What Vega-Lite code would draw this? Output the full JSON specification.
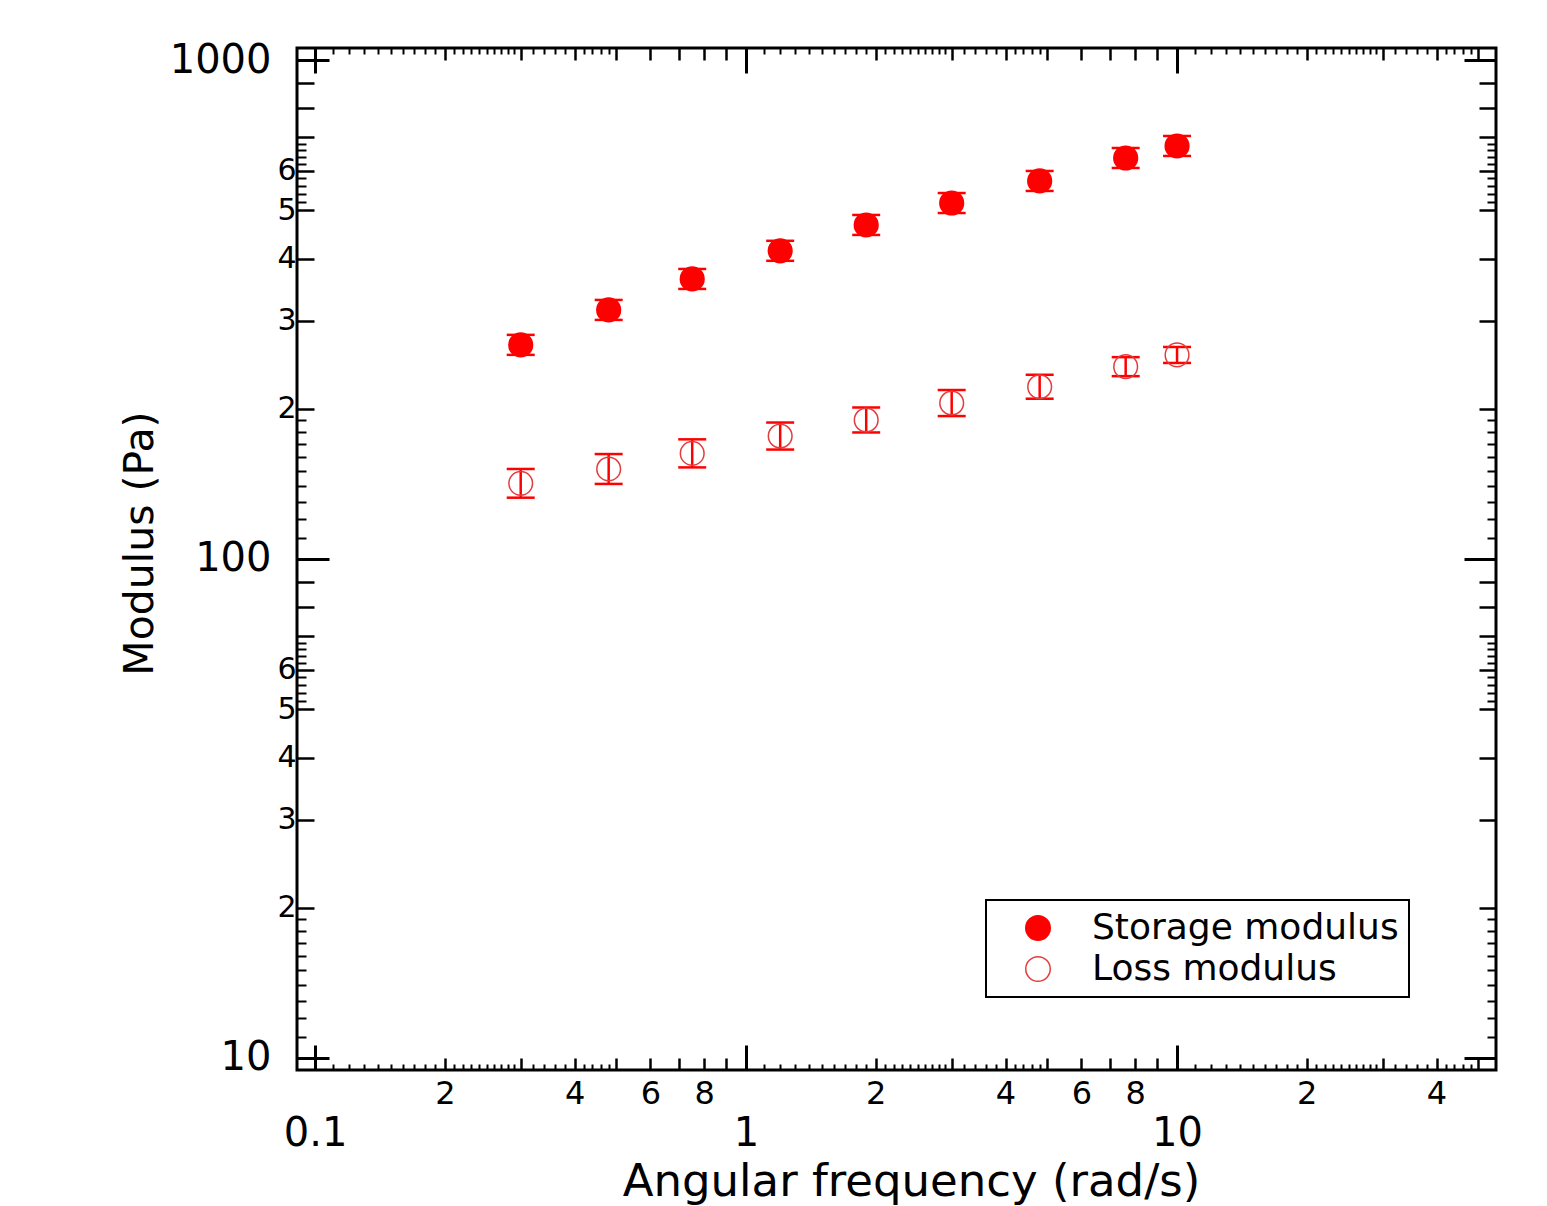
{
  "$schema": "https://vega.github.io/schema/vega-lite/v6.json",
  "width": 1199,
  "height": 1022,
  "autosize": "none",
  "padding": {"left": 297, "top": 48, "right": 51, "bottom": 136},
  "background": "white",
  "config": {
    "view": {"stroke": "black", "strokeWidth": 3},
    "axis": {"grid": false, "domain": false, "labelFont": "DejaVu Sans", "titleFont": "DejaVu Sans", "labelColor": "black", "titleColor": "black", "tickColor": "black", "titleFontWeight": "normal", "labelOverlap": false, "labelFlush": false, "labelBound": false, "tickWidth": 2.5},
    "legend": {"strokeWidth": 2}
  },
  "data": {"values": [
    {"series": "Storage modulus", "freq": 0.3, "value": 268.6, "lo": 256.5, "hi": 281.3},
    {"series": "Storage modulus", "freq": 0.48, "value": 315.6, "lo": 301.4, "hi": 330.5},
    {"series": "Storage modulus", "freq": 0.75, "value": 364.1, "lo": 347.7, "hi": 381.3},
    {"series": "Storage modulus", "freq": 1.2, "value": 414.6, "lo": 395.9, "hi": 434.2},
    {"series": "Storage modulus", "freq": 1.9, "value": 467.1, "lo": 446.1, "hi": 489.2},
    {"series": "Storage modulus", "freq": 3.0, "value": 516.9, "lo": 493.6, "hi": 541.3},
    {"series": "Storage modulus", "freq": 4.8, "value": 572.3, "lo": 546.5, "hi": 599.3},
    {"series": "Storage modulus", "freq": 7.6, "value": 636.3, "lo": 607.6, "hi": 666.3},
    {"series": "Storage modulus", "freq": 10, "value": 672.6, "lo": 642.3, "hi": 704.3},
    {"series": "Loss modulus", "freq": 0.3, "value": 141.8, "lo": 132.7, "hi": 151.5},
    {"series": "Loss modulus", "freq": 0.48, "value": 151.5, "lo": 141.4, "hi": 162.3},
    {"series": "Loss modulus", "freq": 0.75, "value": 162.8, "lo": 152.6, "hi": 173.7},
    {"series": "Loss modulus", "freq": 1.2, "value": 176.4, "lo": 165.7, "hi": 187.7},
    {"series": "Loss modulus", "freq": 1.9, "value": 189.9, "lo": 179.3, "hi": 201.2},
    {"series": "Loss modulus", "freq": 3.0, "value": 205.4, "lo": 193.4, "hi": 218.1},
    {"series": "Loss modulus", "freq": 4.8, "value": 221.4, "lo": 209.5, "hi": 234.0},
    {"series": "Loss modulus", "freq": 7.6, "value": 242.9, "lo": 232.5, "hi": 253.8},
    {"series": "Loss modulus", "freq": 10, "value": 256.4, "lo": 247.1, "hi": 266.0}
  ]},
  "resolve": {"axis": {"x": "independent", "y": "independent"}},
  "layer": [
    {
      "mark": {"type": "rule", "color": "#ff0000", "strokeWidth": 2.5, "opacity": 1},
      "encoding": {
        "x": {"field": "freq", "type": "quantitative", "scale": {"type": "log", "domain": [0.0908, 54.96], "nice": false, "zero": false},
          "axis": {"orient": "bottom", "values": [0.1, 1, 10], "tickSize": -25, "tickWidth": 3, "labelFontSize": 40, "labelPadding": 68,
            "labelExpr": "datum.value < 1 ? '0.1' : format(datum.value, 'd')",
            "title": "Angular frequency (rad/s)", "titleFontSize": 45, "titleX": 614, "titleY": 125, "titleBaseline": "alphabetic", "titleAlign": "center", "titleAnchor": null}},
        "y": {"field": "lo", "type": "quantitative", "scale": {"type": "log", "domain": [9.46, 1057], "nice": false, "zero": false},
          "axis": {"orient": "left", "values": [10, 100, 1000], "tickSize": -32, "tickWidth": 3, "labelFontSize": 40, "labelPadding": 58,
            "labelExpr": "format(datum.value, 'd')",
            "title": "Modulus (Pa)", "titleFontSize": 41, "titleX": -145, "titleY": 495, "titleBaseline": "alphabetic", "titleAlign": "center", "titleAngle": -90, "titleAnchor": null}},
        "y2": {"field": "hi"}
      }
    },
    {
      "mark": {"type": "tick", "orient": "horizontal", "size": 28, "thickness": 2.5, "color": "#ff0000", "opacity": 1},
      "encoding": {
        "x": {"field": "freq", "type": "quantitative",
          "axis": {"orient": "bottom", "values": [0.2, 0.3, 0.4, 0.5, 0.6, 0.7, 0.8, 0.9, 2, 3, 4, 5, 6, 7, 8, 9, 20, 30, 40, 50], "tickSize": -12, "labelFontSize": 32, "labelPadding": 20,
            "labelExpr": "indexof([0.2, 0.4, 0.6, 0.8, 2, 4, 6, 8, 20, 40], datum.value) >= 0 ? (datum.value < 1 ? format(datum.value * 10, 'd') : datum.value < 10 ? format(datum.value, 'd') : format(datum.value / 10, 'd')) : ''",
            "title": null}},
        "y": {"field": "lo", "type": "quantitative",
          "axis": {"orient": "left", "values": [20, 30, 40, 50, 60, 70, 80, 90, 200, 300, 400, 500, 600, 700, 800, 900], "tickSize": -17, "labelFontSize": 30, "labelPadding": 18,
            "labelExpr": "indexof([20, 30, 40, 50, 60, 200, 300, 400, 500, 600], datum.value) >= 0 ? format(datum.value < 100 ? datum.value / 10 : datum.value / 100, 'd') : ''",
            "title": null}}
      }
    },
    {
      "mark": {"type": "tick", "orient": "horizontal", "size": 28, "thickness": 2.5, "color": "#ff0000", "opacity": 1},
      "encoding": {
        "x": {"field": "freq", "type": "quantitative",
          "axis": {"orient": "bottom", "values": [0.11, 0.12, 0.13, 0.14, 0.15, 0.16, 0.17, 0.18, 0.19, 0.21, 0.22, 0.23, 0.24, 0.25, 0.26, 0.27, 0.28, 0.29, 0.32, 0.34, 0.36, 0.38, 0.42, 0.44, 0.46, 0.48, 1.1, 1.2, 1.3, 1.4, 1.5, 1.6, 1.7, 1.8, 1.9, 2.1, 2.2, 2.3, 2.4, 2.5, 2.6, 2.7, 2.8, 2.9, 3.2, 3.4, 3.6, 3.8, 4.2, 4.4, 4.6, 4.8, 11, 12, 13, 14, 15, 16, 17, 18, 19, 21, 22, 23, 24, 25, 26, 27, 28, 29, 32, 34, 36, 38, 42, 44, 46, 48], "tickSize": -6, "tickWidth": 2, "labels": false, "title": null}},
        "y": {"field": "hi", "type": "quantitative",
          "axis": {"orient": "left", "values": [11, 12, 13, 14, 15, 16, 17, 18, 19, 52, 54, 56, 58, 62, 64, 66, 68, 110, 120, 130, 140, 150, 160, 170, 180, 190, 520, 540, 560, 580, 620, 640, 660, 680], "tickSize": -9, "tickWidth": 2, "labels": false, "title": null}}
      }
    },
    {
      "mark": {"type": "point", "filled": true, "size": 560, "strokeWidth": 1.5, "opacity": 1},
      "encoding": {
        "x": {"field": "freq", "type": "quantitative",
          "axis": {"orient": "top", "values": [0.1, 1, 10], "tickSize": -25, "tickWidth": 3, "labels": false, "title": null}},
        "y": {"field": "value", "type": "quantitative",
          "axis": {"orient": "right", "values": [10, 100, 1000], "tickSize": -32, "tickWidth": 3, "labels": false, "title": null}},
        "fill": {"field": "series", "type": "nominal",
          "scale": {"domain": ["Storage modulus", "Loss modulus"], "range": ["#ff0000", "rgba(0,0,0,0)"]},
          "legend": {"title": null, "orient": "none", "legendX": 689, "legendY": 852, "labelFontSize": 36, "labelFont": "DejaVu Sans", "labelColor": "black", "labelLimit": 600,
            "symbolSize": 600, "symbolStrokeWidth": 1.5, "symbolType": "circle", "padding": 10, "strokeColor": "black", "fillColor": "white", "rowPadding": 5, "symbolOffset": 24, "labelOffset": 36}},
        "stroke": {"field": "series", "type": "nominal",
          "scale": {"domain": ["Storage modulus", "Loss modulus"], "range": ["#ff0000", "#e23c3c"]},
          "legend": {"title": null}}
      }
    },
    {
      "mark": {"type": "point", "opacity": 0},
      "encoding": {
        "x": {"field": "freq", "type": "quantitative",
          "axis": {"orient": "top", "values": [0.2, 0.3, 0.4, 0.5, 0.6, 0.7, 0.8, 0.9, 2, 3, 4, 5, 6, 7, 8, 9, 20, 30, 40, 50], "tickSize": -12, "labels": false, "title": null}},
        "y": {"field": "value", "type": "quantitative",
          "axis": {"orient": "right", "values": [20, 30, 40, 50, 60, 70, 80, 90, 200, 300, 400, 500, 600, 700, 800, 900], "tickSize": -17, "labels": false, "title": null}}
      }
    },
    {
      "mark": {"type": "point", "opacity": 0},
      "encoding": {
        "x": {"field": "freq", "type": "quantitative",
          "axis": {"orient": "top", "values": [0.11, 0.12, 0.13, 0.14, 0.15, 0.16, 0.17, 0.18, 0.19, 0.21, 0.22, 0.23, 0.24, 0.25, 0.26, 0.27, 0.28, 0.29, 0.32, 0.34, 0.36, 0.38, 0.42, 0.44, 0.46, 0.48, 1.1, 1.2, 1.3, 1.4, 1.5, 1.6, 1.7, 1.8, 1.9, 2.1, 2.2, 2.3, 2.4, 2.5, 2.6, 2.7, 2.8, 2.9, 3.2, 3.4, 3.6, 3.8, 4.2, 4.4, 4.6, 4.8, 11, 12, 13, 14, 15, 16, 17, 18, 19, 21, 22, 23, 24, 25, 26, 27, 28, 29, 32, 34, 36, 38, 42, 44, 46, 48], "tickSize": -6, "tickWidth": 2, "labels": false, "title": null}},
        "y": {"field": "value", "type": "quantitative",
          "axis": {"orient": "right", "values": [11, 12, 13, 14, 15, 16, 17, 18, 19, 52, 54, 56, 58, 62, 64, 66, 68, 110, 120, 130, 140, 150, 160, 170, 180, 190, 520, 540, 560, 580, 620, 640, 660, 680], "tickSize": -9, "tickWidth": 2, "labels": false, "title": null}}
      }
    }
  ]
}
